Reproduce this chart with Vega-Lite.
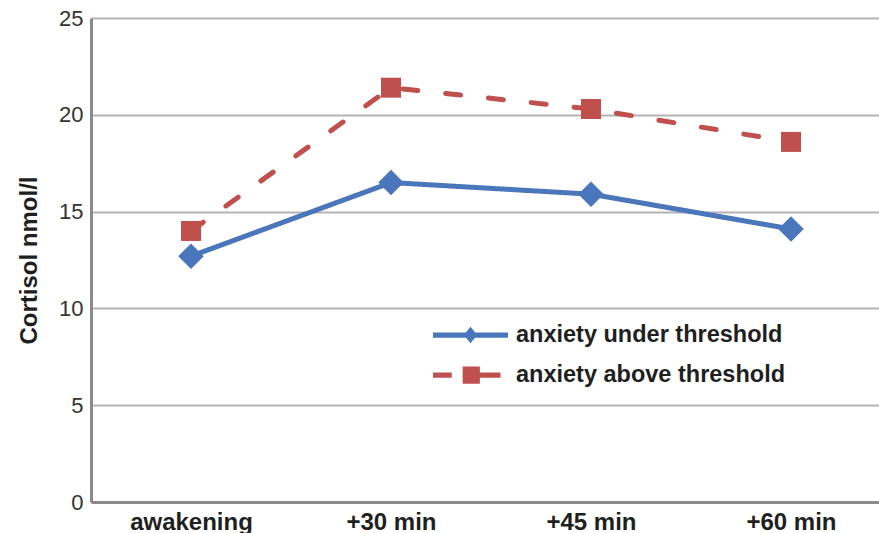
{
  "$schema": "https://vega.github.io/schema/vega-lite/v6.json",
  "width": 788,
  "height": 484,
  "autosize": {"type": "none"},
  "padding": {"left": 91, "top": 18, "right": 0, "bottom": 31},
  "background": "white",
  "config": {"view": {"stroke": null}, "font": "Liberation Sans"},
  "data": {"values": [
    {"time": "awakening", "group": "anxiety under threshold", "cortisol": 12.7},
    {"time": "+30 min", "group": "anxiety under threshold", "cortisol": 16.5},
    {"time": "+45 min", "group": "anxiety under threshold", "cortisol": 15.9},
    {"time": "+60 min", "group": "anxiety under threshold", "cortisol": 14.1},
    {"time": "awakening", "group": "anxiety above threshold", "cortisol": 14.0},
    {"time": "+30 min", "group": "anxiety above threshold", "cortisol": 21.4},
    {"time": "+45 min", "group": "anxiety above threshold", "cortisol": 20.3},
    {"time": "+60 min", "group": "anxiety above threshold", "cortisol": 18.6}
  ]},
  "encoding": {
    "x": {
      "field": "time", "type": "ordinal",
      "sort": ["awakening", "+30 min", "+45 min", "+60 min"],
      "scale": {"type": "point", "range": [0, 800], "padding": 0.5},
      "axis": {"title": null, "labelAngle": 0, "labelFont": "Liberation Sans", "labelFontSize": 24, "labelFontWeight": "bold", "labelColor": "#1f1f1f", "labelPadding": 8, "ticks": false, "grid": false, "domainColor": "#8a8a8a", "domainWidth": 3}
    },
    "y": {
      "field": "cortisol", "type": "quantitative",
      "scale": {"domain": [0, 25], "nice": false},
      "axis": {"title": "Cortisol nmol/l", "titleFont": "Liberation Sans", "titleFontSize": 24, "titleFontWeight": "bold", "titleColor": "#1f1f1f", "titlePadding": 17, "values": [0, 5, 10, 15, 20, 25], "labelFont": "Liberation Sans", "labelFontSize": 22, "labelColor": "#333333", "labelPadding": 8, "ticks": false, "domainColor": "#8a8a8a", "domainWidth": 3, "gridColor": "#b3b3b3", "gridWidth": 2}
    }
  },
  "layer": [
    {
      "mark": {"type": "line", "strokeWidth": 5, "strokeCap": "round"},
      "encoding": {
        "color": {
          "field": "group", "type": "nominal",
          "scale": {"domain": ["anxiety under threshold", "anxiety above threshold"], "range": ["#4a76bb", "#c0504d"]},
          "legend": {
            "orient": "none", "legendX": 342, "legendY": 297, "title": null, "padding": 0,
            "symbolSize": 5625, "clipHeight": 40, "rowPadding": 0,
            "symbolType": {"expr": "datum.value === 'anxiety under threshold' ? 'M-1,-0.07H1V0.07H-1Z M-0.18,0L0,-0.22L0.18,0L0,0.22Z' : 'M-1,-0.07H-0.5V0.07H-1Z M-0.21,-0.23H0.25V0.23H-0.21Z M0.25,-0.07H0.8V0.07H0.25Z'"},
            "symbolFillColor": {"expr": "datum.value === 'anxiety under threshold' ? '#4a76bb' : '#c0504d'"},
            "symbolStrokeColor": "transparent",
            "symbolStrokeWidth": 0,
            "symbolOpacity": 1,
            "labelFont": "Liberation Sans", "labelFontSize": 23.5, "labelFontWeight": "bold", "labelColor": "#1f1f1f", "labelOffset": 8, "labelLimit": 400
          }
        },
        "strokeDash": {"field": "group", "type": "nominal", "scale": {"domain": ["anxiety under threshold", "anxiety above threshold"], "range": [[1, 0], [15, 28]]}, "legend": null}
      }
    },
    {
      "transform": [{"filter": "datum.group === 'anxiety under threshold'"}],
      "mark": {"type": "point", "filled": true, "opacity": 1, "shape": "diamond", "size": 650},
      "encoding": {
        "color": {"field": "group", "type": "nominal", "legend": null}
      }
    },
    {
      "transform": [{"filter": "datum.group === 'anxiety above threshold'"}],
      "mark": {"type": "point", "filled": true, "opacity": 1, "shape": "square", "size": 400},
      "encoding": {
        "color": {"field": "group", "type": "nominal", "legend": null}
      }
    }
  ]
}
